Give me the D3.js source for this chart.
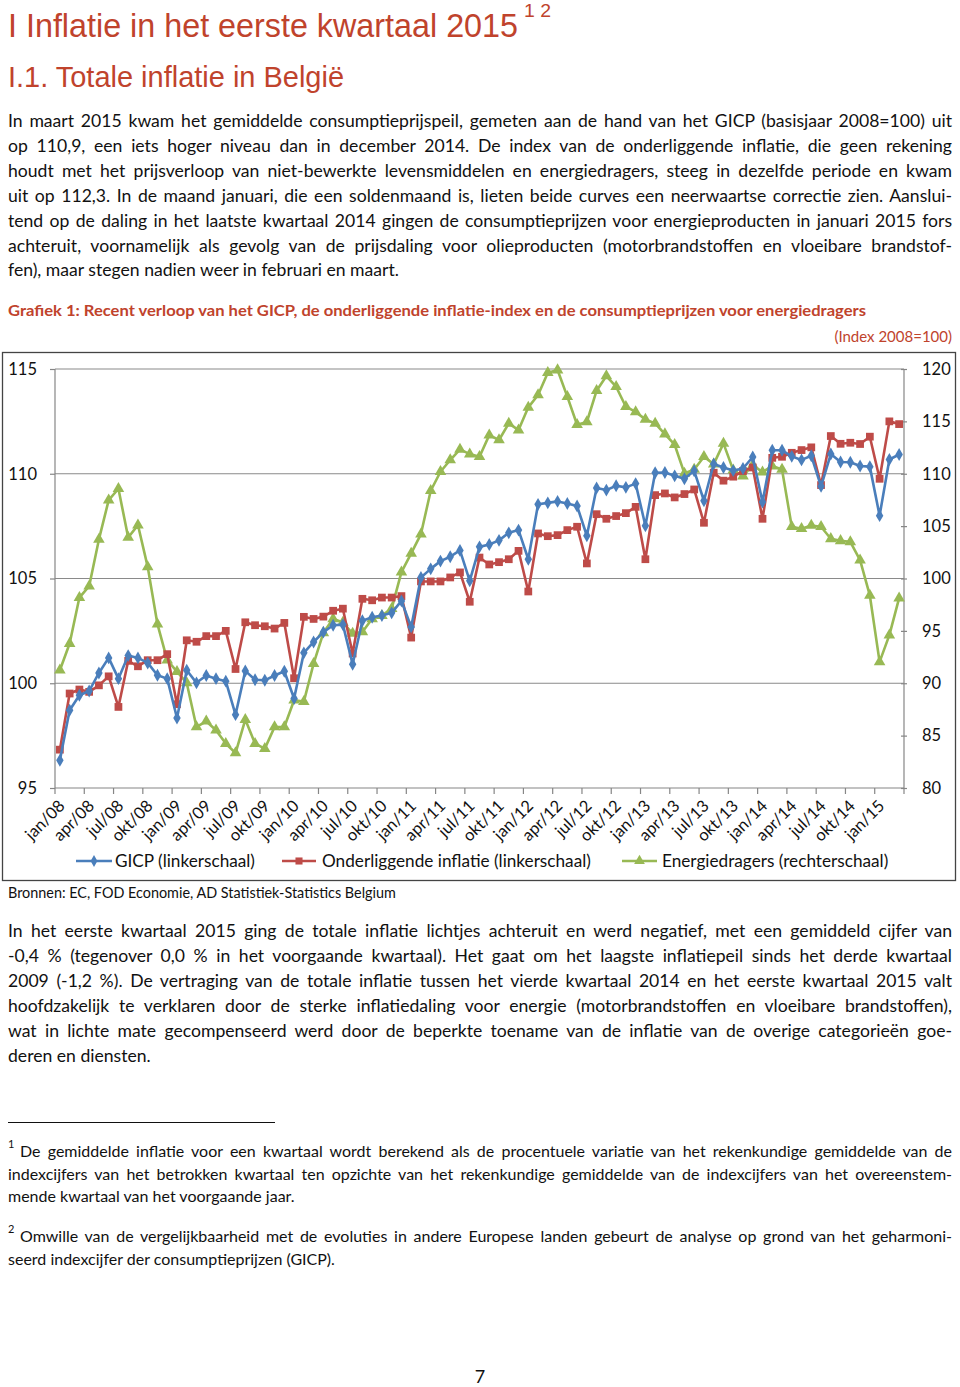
<!DOCTYPE html>
<html><head><meta charset="utf-8">
<script src="https://cdn.jsdelivr.net/npm/d3@7"></script>
<style>body{margin:0;background:#fff} svg{display:block}</style>
</head><body>
<svg id="page" width="960" height="1387"></svg>
<script>
// ---------------- DATA ----------------
const months = [
 "jan/08","feb/08","mrt/08","apr/08","mei/08","jun/08","jul/08","aug/08","sep/08","okt/08","nov/08","dec/08",
 "jan/09","feb/09","mrt/09","apr/09","mei/09","jun/09","jul/09","aug/09","sep/09","okt/09","nov/09","dec/09",
 "jan/10","feb/10","mrt/10","apr/10","mei/10","jun/10","jul/10","aug/10","sep/10","okt/10","nov/10","dec/10",
 "jan/11","feb/11","mrt/11","apr/11","mei/11","jun/11","jul/11","aug/11","sep/11","okt/11","nov/11","dec/11",
 "jan/12","feb/12","mrt/12","apr/12","mei/12","jun/12","jul/12","aug/12","sep/12","okt/12","nov/12","dec/12",
 "jan/13","feb/13","mrt/13","apr/13","mei/13","jun/13","jul/13","aug/13","sep/13","okt/13","nov/13","dec/13",
 "jan/14","feb/14","mrt/14","apr/14","mei/14","jun/14","jul/14","aug/14","sep/14","okt/14","nov/14","dec/14",
 "jan/15","feb/15","mrt/15"];
const tickLabels = ["jan/08","apr/08","jul/08","okt/08","jan/09","apr/09","jul/09","okt/09",
 "jan/10","apr/10","jul/10","okt/10","jan/11","apr/11","jul/11","okt/11","jan/12","apr/12","jul/12","okt/12",
 "jan/13","apr/13","jul/13","okt/13","jan/14","apr/14","jul/14","okt/14","jan/15"];
const gicp = [96.32,98.71,99.43,99.63,100.49,101.21,100.22,101.32,101.21,100.97,100.38,100.22,
 98.34,100.62,100.02,100.37,100.22,100.10,98.50,100.59,100.17,100.14,100.37,100.57,
 99.27,101.45,101.97,102.44,102.77,102.80,100.91,102.98,103.15,103.23,103.36,103.93,
 102.69,105.05,105.46,105.83,106.04,106.34,104.89,106.51,106.62,106.82,107.18,107.31,
 105.92,108.54,108.61,108.68,108.58,108.46,107.04,109.32,109.22,109.43,109.35,109.53,
 107.52,110.05,110.06,109.90,109.76,110.14,108.71,110.47,110.30,110.15,110.25,110.80,
 108.65,111.12,111.12,110.83,110.66,110.86,109.40,110.94,110.56,110.55,110.37,110.34,
 108.00,110.68,110.92];
const core = [96.83,99.51,99.70,99.59,99.90,100.33,98.87,101.07,100.81,101.10,101.10,101.39,
 99.00,102.05,101.98,102.25,102.25,102.50,100.68,102.91,102.77,102.72,102.61,102.88,
 100.24,103.17,103.07,103.18,103.46,103.56,101.42,104.03,103.96,104.09,104.09,104.16,
 102.18,104.86,104.86,104.86,105.05,105.29,103.89,106.00,105.67,105.78,105.92,106.32,
 104.38,107.15,107.02,107.07,107.31,107.47,105.72,108.07,107.85,107.98,108.12,108.42,
 105.92,108.98,109.06,108.87,109.03,109.25,107.66,110.05,109.67,109.86,110.13,110.30,
 107.85,110.76,110.81,111.00,111.13,111.26,109.46,111.80,111.43,111.48,111.42,111.77,
 109.76,112.50,112.37];
const energy = [91.24,93.79,98.18,99.27,103.73,107.48,108.57,103.92,105.10,101.11,95.64,92.20,
 91.11,90.03,85.83,86.37,85.51,84.24,83.34,86.53,84.24,83.76,85.83,85.83,
 88.38,88.25,91.88,94.81,96.15,95.80,94.75,94.90,96.15,96.46,97.13,100.61,
 102.39,104.24,108.38,110.19,111.31,112.32,111.88,111.62,113.69,113.22,114.81,114.17,
 116.34,117.52,119.65,119.90,117.36,114.68,114.94,117.93,119.33,118.31,116.40,115.90,
 115.19,114.81,113.79,112.77,110.03,110.41,111.62,110.92,112.90,110.35,109.78,110.83,
 110.16,110.73,110.41,104.94,104.75,105.06,104.94,103.79,103.60,103.50,101.75,98.38,
 92.04,94.59,98.12];
const leftTicks = [95,100,105,110,115];
const rightTicks = [80,85,90,95,100,105,110,115,120];
const seriesNames = ["GICP (linkerschaal)","Onderliggende inflatie (linkerschaal)","Energiedragers (rechterschaal)"];

// ---------------- TEXT ----------------
const para1 = [
 "In maart 2015 kwam het gemiddelde consumptieprijspeil, gemeten aan de hand van het GICP (basisjaar 2008=100) uit",
 "op 110,9, een iets hoger niveau dan in december 2014. De index van de onderliggende inflatie, die geen rekening",
 "houdt met het prijsverloop van niet-bewerkte levensmiddelen en energiedragers, steeg in dezelfde periode en kwam",
 "uit op 112,3. In de maand januari, die een soldenmaand is, lieten beide curves een neerwaartse correctie zien. Aanslui-",
 "tend op de daling in het laatste kwartaal 2014 gingen de consumptieprijzen voor energieproducten in januari 2015 fors",
 "achteruit, voornamelijk als gevolg van de prijsdaling voor olieproducten (motorbrandstoffen en vloeibare brandstof-",
 "fen), maar stegen nadien weer in februari en maart."];
const para2 = [
 "In het eerste kwartaal 2015 ging de totale inflatie lichtjes achteruit en werd negatief, met een gemiddeld cijfer van",
 "-0,4 % (tegenover 0,0 % in het voorgaande kwartaal). Het gaat om het laagste inflatiepeil sinds het derde kwartaal",
 "2009 (-1,2 %). De vertraging van de totale inflatie tussen het vierde kwartaal 2014 en het eerste kwartaal 2015 valt",
 "hoofdzakelijk te verklaren door de sterke inflatiedaling voor energie (motorbrandstoffen en vloeibare brandstoffen),",
 "wat in lichte mate gecompenseerd werd door de beperkte toename van de inflatie van de overige categorieën goe-",
 "deren en diensten."];
const foot1 = [
 "De gemiddelde inflatie voor een kwartaal wordt berekend als de procentuele variatie van het rekenkundige gemiddelde van de",
 "indexcijfers van het betrokken kwartaal ten opzichte van het rekenkundige gemiddelde van de indexcijfers van het overeenstem-",
 "mende kwartaal van het voorgaande jaar."];
const foot2 = [
 "Omwille van de vergelijkbaarheid met de evoluties in andere Europese landen gebeurt de analyse op grond van het geharmoni-",
 "seerd indexcijfer der consumptieprijzen (GICP)."];

// ---------------- DRAW ----------------
const svg = d3.select("#page");
const BODY = "Lato, 'Open Sans', sans-serif";
const NARROW = "'Liberation Sans Narrow','Arial Narrow','Liberation Sans',sans-serif";
const RED = "#C0432C";

function fitText(text, x, y, width, opts) {
  const t = svg.append("text").attr("x", x).attr("y", y)
    .attr("font-family", opts.family || BODY).attr("font-size", opts.size)
    .attr("font-weight", opts.weight || "normal").attr("fill", opts.fill || "#111")
    .text(text);
  if (opts.justify) {
    const len = t.node().getComputedTextLength();
    const spaces = (text.match(/ /g) || []).length;
    const extra = width - len;
    if (extra >= 0 && spaces > 0 && extra / spaces < 8) t.attr("word-spacing", extra / spaces);
    else t.attr("textLength", width).attr("lengthAdjust", "spacingAndGlyphs");
  }
  return t;
}

// Titles
svg.append("text").attr("x", 8).attr("y", 37).attr("font-family", NARROW).attr("font-size", 34)
  .attr("fill", RED).attr("textLength", 510).attr("lengthAdjust", "spacingAndGlyphs")
  .text("I Inflatie in het eerste kwartaal 2015");
svg.append("text").attr("x", 524).attr("y", 17).attr("font-family", NARROW).attr("font-size", 18)
  .attr("fill", RED).attr("textLength", 27).attr("lengthAdjust", "spacingAndGlyphs").text("1 2");
svg.append("text").attr("x", 8).attr("y", 87).attr("font-family", NARROW).attr("font-size", 30)
  .attr("fill", RED).attr("textLength", 336).attr("lengthAdjust", "spacingAndGlyphs")
  .text("I.1. Totale inflatie in België");

// Paragraph 1
para1.forEach((l, i) => fitText(l, 8, 127 + i * 24.9, 944, {size: 17.6, justify: i < para1.length - 1}));

// Caption
svg.append("text").attr("x", 8).attr("y", 316).attr("font-family", BODY).attr("font-size", 16)
  .attr("font-weight", "bold").attr("fill", RED).attr("textLength", 858).attr("lengthAdjust", "spacingAndGlyphs")
  .text("Grafiek 1: Recent verloop van het GICP, de onderliggende inflatie-index en de consumptieprijzen voor energiedragers");
svg.append("text").attr("x", 952).attr("y", 342).attr("text-anchor", "end").attr("font-family", BODY)
  .attr("font-size", 15).attr("fill", RED).text("(Index 2008=100)");

// Chart frame
svg.append("rect").attr("x", 2.5).attr("y", 352.5).attr("width", 953).attr("height", 528)
  .attr("fill", "none").attr("stroke", "#444").attr("stroke-width", 1.3);

const x = d3.scaleBand().domain(months).range([55, 904]).padding(0);
const yL = d3.scaleLinear().domain([95, 115]).range([788, 369]);
const yR = d3.scaleLinear().domain([80, 120]).range([788, 369]);
const cx = m => x(m) + x.bandwidth() / 2;

// gridlines
svg.append("g").selectAll("line").data(leftTicks.filter(v => v > 95)).join("line")
  .attr("x1", 55).attr("x2", 904).attr("y1", d => yL(d)).attr("y2", d => yL(d))
  .attr("stroke", "#8a8a8a").attr("stroke-width", 1.2);

// left axis
const gL = svg.append("g").attr("transform", "translate(55,0)")
  .call(d3.axisLeft(yL).tickValues(leftTicks).tickSize(5).tickPadding(13).tickFormat(d3.format("d")));
// right axis
const gR = svg.append("g").attr("transform", "translate(904,0)")
  .call(d3.axisRight(yR).tickValues(rightTicks).tickSize(3).tickPadding(15).tickFormat(d3.format("d")));
gR.selectAll(".tick line").attr("x1", -3);
// bottom axis with ticks every 3 months at band edges
const xTickMonths = months.filter((m, i) => i % 3 === 0);
const gB = svg.append("g").attr("transform", "translate(0,788)");
gB.append("line").attr("x1", 55).attr("x2", 904).attr("stroke", "#868686").attr("stroke-width", 1.2);
gB.selectAll("line.tk").data(xTickMonths.concat(["__end"])).join("line").attr("class", "tk")
  .attr("x1", d => d === "__end" ? 904 : x(d)).attr("x2", d => d === "__end" ? 904 : x(d))
  .attr("y1", 0).attr("y2", 6).attr("stroke", "#868686").attr("stroke-width", 1.2);
gB.selectAll("text").data(tickLabels).join("text")
  .attr("transform", d => `translate(${cx(d) + 6},${19}) rotate(-45)`)
  .attr("text-anchor", "end").attr("font-family", BODY).attr("font-size", 16.5).attr("fill", "#111")
  .text(d => d);

[gL, gR].forEach(g => {
  g.select(".domain").attr("stroke", "#868686").attr("stroke-width", 1.2);
  g.selectAll(".tick line").attr("stroke", "#868686").attr("stroke-width", 1.2);
  g.selectAll(".tick text").attr("font-family", BODY).attr("font-size", 16.5).attr("fill", "#111");
});
gL.select(".domain").attr("d", "M0,369V788");
gR.select(".domain").attr("d", "M0,369V788");

// series
const colors = ["#4A7EBB", "#BE4B48", "#98B954"];
const lineL = d3.line().x((d, i) => cx(months[i])).y(d => yL(d));
const lineR = d3.line().x((d, i) => cx(months[i])).y(d => yR(d));
const plot = svg.append("g");
function markers(g, data, yS, kind, color) {
  const sym = kind === "diamond" ? d3.symbol(d3.symbolDiamond, 48) :
              kind === "square" ? d3.symbol(d3.symbolSquare, 60) : d3.symbol(d3.symbolTriangle, 58);
  g.selectAll("path.m").data(data).join("path").attr("class", "m")
    .attr("transform", (d, i) => `translate(${cx(months[i])},${yS(d)})`)
    .attr("d", sym).attr("fill", color);
}
const gE = plot.append("g");
gE.append("path").datum(energy).attr("d", lineR).attr("fill", "none").attr("stroke", colors[2]).attr("stroke-width", 2.6).attr("stroke-linejoin", "round");
markers(gE, energy, yR, "triangle", colors[2]);
const gC = plot.append("g");
gC.append("path").datum(core).attr("d", lineL).attr("fill", "none").attr("stroke", colors[1]).attr("stroke-width", 2.6).attr("stroke-linejoin", "round");
markers(gC, core, yL, "square", colors[1]);
const gG = plot.append("g");
gG.append("path").datum(gicp).attr("d", lineL).attr("fill", "none").attr("stroke", colors[0]).attr("stroke-width", 2.6).attr("stroke-linejoin", "round");
markers(gG, gicp, yL, "diamond", colors[0]);

// legend
const legend = [
  {x1: 76, x2: 112, tx: 115, kind: "diamond"},
  {x1: 282, x2: 316, tx: 322, kind: "square"},
  {x1: 622, x2: 657, tx: 662, kind: "triangle"}];
const lg = svg.append("g");
legend.forEach((l, i) => {
  lg.append("line").attr("x1", l.x1).attr("x2", l.x2).attr("y1", 861).attr("y2", 861)
    .attr("stroke", colors[i]).attr("stroke-width", 2.6);
  const sym = l.kind === "diamond" ? d3.symbol(d3.symbolDiamond, 40) :
              l.kind === "square" ? d3.symbol(d3.symbolSquare, 50) : d3.symbol(d3.symbolTriangle, 50);
  lg.append("path").attr("transform", `translate(${(l.x1 + l.x2) / 2},861)`).attr("d", sym).attr("fill", colors[i]);
  lg.append("text").attr("x", l.tx).attr("y", 867).attr("font-family", BODY).attr("font-size", 17.2)
    .attr("fill", "#111").text(seriesNames[i]);
});

// source
svg.append("text").attr("x", 8).attr("y", 898).attr("font-family", BODY).attr("font-size", 14.4)
  .attr("fill", "#111").text("Bronnen: EC, FOD Economie, AD Statistiek-Statistics Belgium");

// Paragraph 2
para2.forEach((l, i) => fitText(l, 8, 937 + i * 24.9, 944, {size: 17.6, justify: i < para2.length - 1}));

// footnote rule
svg.append("line").attr("x1", 8).attr("x2", 275).attr("y1", 1122.5).attr("y2", 1122.5)
  .attr("stroke", "#111").attr("stroke-width", 1);

// footnotes
svg.append("text").attr("x", 8).attr("y", 1148).attr("font-family", BODY).attr("font-size", 11).attr("fill", "#111").text("1");
foot1.forEach((l, i) => fitText(l, i === 0 ? 20 : 8, 1157 + i * 22.6, i === 0 ? 932 : 944, {size: 16, justify: i < foot1.length - 1}));
svg.append("text").attr("x", 8).attr("y", 1233).attr("font-family", BODY).attr("font-size", 11).attr("fill", "#111").text("2");
foot2.forEach((l, i) => fitText(l, i === 0 ? 20 : 8, 1242 + i * 22.6, i === 0 ? 932 : 944, {size: 16, justify: i < foot2.length - 1}));

// page number
svg.append("text").attr("x", 480).attr("y", 1383).attr("text-anchor", "middle").attr("font-family", BODY)
  .attr("font-size", 18).attr("fill", "#111").text("7");
</script>
</body></html>
